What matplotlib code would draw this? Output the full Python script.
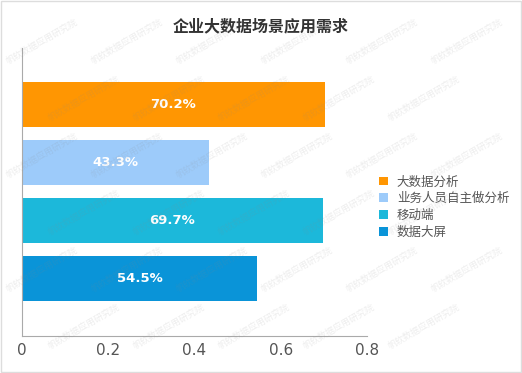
import matplotlib
matplotlib.use("Agg")
import matplotlib.pyplot as plt
from matplotlib.patches import Rectangle

plt.rcParams["font.family"] = ["Noto Sans CJK SC", "DejaVu Sans"]

series = ["大数据分析", "业务人员自主做分析", "移动端", "数据大屏"]
values = [0.702, 0.433, 0.697, 0.545]
colors = ["#FF9602", "#9DCBFA", "#1CB8DA", "#0A94D8"]
xticks = [0, 0.2, 0.4, 0.6, 0.8]
watermark = "帆软数据应用研究院"

W, H = 522, 373
fig = plt.figure(figsize=(W / 100, H / 100), dpi=100)
fig.patch.set_facecolor("white")
fig.add_artist(Rectangle((0.002, 0.002), 0.996, 0.994, transform=fig.transFigure,
                         fill=False, ec="#dddddd", lw=1))

ax = fig.add_axes([0.042, 0.099, 0.661, 0.772])
pos = list(range(len(series)))
bars = ax.barh(pos, values, height=0.776, color=colors, label=series, zorder=2)
for p, v in zip(pos, values):
    ax.text(v / 2, p, f"{v*100:.1f}%", ha="center", va="center", color="white",
            fontsize=9.5, fontweight="bold", family="DejaVu Sans", zorder=3)

ax.set_xlim(0, 0.8)
ax.set_ylim(3.99, -0.975)
ax.set_xticks(xticks)
ax.set_xticklabels(["0" if t == 0 else f"{t:.1f}" for t in xticks],
                   family="DejaVu Sans", fontsize=11, color="#555555")
ax.set_yticks([])
ax.tick_params(axis="x", length=0, pad=5)
for s in ["top", "right"]:
    ax.spines[s].set_visible(False)
ax.spines["left"].set_color("#aaaaaa")
ax.spines["bottom"].set_color("#aaaaaa")

fig.text(0.5, 0.928, "企业大数据场景应用需求", ha="center", va="center",
         fontsize=11.5, fontweight="bold", color="#333333")

fig.legend(bars, series, loc="upper left", bbox_to_anchor=(0.705, 0.56),
           frameon=False, fontsize=9, handlelength=0.7, handleheight=0.7,
           handletextpad=0.7, labelspacing=0.3, labelcolor="#555555")

# faint diagonal watermark, kept inside the frame
for r, yc in enumerate(range(42, 360, 57)):
    x0 = 42 + (r % 2) * 42
    for xc in range(x0, 490, 85):
        fig.text(xc / W, 1 - yc / H, watermark, rotation=30, fontsize=6.5,
                 color="#888888", alpha=0.15, ha="center", va="center", zorder=5)

fig.savefig("out.png", dpi=100)
